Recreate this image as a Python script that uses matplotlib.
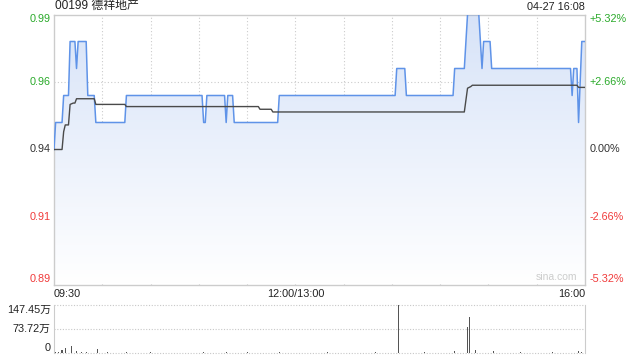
import numpy as np
import matplotlib
matplotlib.use('Agg')
import matplotlib.pyplot as plt
from matplotlib.colors import LinearSegmentedColormap
from matplotlib.transforms import blended_transform_factory

plt.rcParams['font.family'] = ['Liberation Sans', 'Noto Sans CJK SC', 'DejaVu Sans']

# Данные (минуты от 09:30, торговые минуты: 0..330)
title = '00199 德祥地产'
stamp = '04-27 16:08'
prev_close = 0.94

price_t = [0, 1, 5, 6, 9, 10, 13, 14, 15, 20, 21, 25, 26, 44, 45, 92, 93, 94, 95,
           106, 107, 108, 111, 112, 139, 140, 212, 213, 218, 219, 248, 249, 255, 257,
           264, 266, 267, 271, 272, 321, 322, 323, 325, 326, 328, 330]
price_v = [0.94, 0.95, 0.95, 0.96, 0.96, 0.98, 0.98, 0.97, 0.98, 0.98, 0.96, 0.96, 0.95, 0.95, 0.96, 0.96, 0.95, 0.95, 0.96,
           0.96, 0.95, 0.96, 0.96, 0.95, 0.95, 0.96, 0.96, 0.97, 0.97, 0.96, 0.96, 0.97, 0.97, 0.99,
           0.99, 0.97, 0.98, 0.98, 0.97, 0.97, 0.96, 0.97, 0.97, 0.95, 0.98, 0.98]

avg_t = [0, 5, 6, 7, 9, 10, 12, 13, 14, 25, 26, 44, 45, 127, 128, 135, 136, 255, 257, 259, 260, 325, 326, 330]
avg_v = [0.940, 0.940, 0.9466, 0.9491, 0.9491, 0.9567, 0.9572, 0.9572, 0.9588, 0.9588, 0.9567, 0.9567,
         0.9559, 0.9559, 0.9549, 0.9549, 0.9539, 0.9539, 0.9627, 0.9633, 0.9638, 0.9638, 0.9630, 0.9630]

# Объём,万
vol_t = [1, 3, 5, 7, 11, 14, 17, 20, 27, 33, 45, 60, 93, 107, 120, 140, 170, 200,
         214, 230, 249, 257, 258, 262, 273, 290, 310, 326, 328]
vol_v = [3, 2, 9, 14, 21, 5, 3, 3, 12, 2, 3, 2, 3, 3, 2, 4, 2, 2,
         147.45, 2, 6, 81, 111, 8, 6, 2, 2, 7, 3]

price_ticks = [0.99, 0.965, 0.94, 0.915, 0.89]
price_labels = ['0.99', '0.96', '0.94', '0.91', '0.89']
pct_labels = ['+5.32%', '+2.66%', '0.00%', '-2.66%', '-5.32%']
tick_colors = ['#2aaa2a', '#2aaa2a', '#333333', '#f03a3a', '#f03a3a']

x_ticks = [0, 150, 330]
x_labels = ['09:30', '12:00/13:00', '16:00']

vol_ticks = [147.45, 73.72, 0]
vol_labels = ['147.45万', '73.72万', '0']

fig = plt.figure(figsize=(6.4, 3.6), dpi=100)
ax = fig.add_axes([54 / 640, 1 - 284.5 / 360, 531 / 640, 270 / 360])
axv = fig.add_axes([54 / 640, 1 - 353 / 360, 531 / 640, 48 / 360])

# Основной график
ax.set_xlim(0, 330)
ax.set_ylim(0.89, 0.99)
for s in ax.spines.values():
    s.set_color('#cccccc')
    s.set_linewidth(1)
ax.set_xticks([])
ax.set_yticks([])

for m in range(30, 330, 30):
    ax.axvline(m, color='#cccccc', lw=0.8, ls=(0, (1, 2)), zorder=1)
for p in [0.965, 0.915]:
    ax.axhline(p, color='#cccccc', lw=0.8, ls=(0, (1, 2)), zorder=1)
ax.axhline(prev_close, color='#bbbbbb', lw=0.9, ls=(0, (3, 3)), zorder=1)

# Заливка градиентом под линией цены
cmap = LinearSegmentedColormap.from_list('g', ['#ffffff', '#d7e3f8'])
grad = np.linspace(0, 1, 256).reshape(-1, 1)
img = ax.imshow(grad, extent=[0, 330, 0.89, 0.99], origin='lower', aspect='auto',
                cmap=cmap, zorder=2)
poly = ax.fill_between(price_t, price_v, 0.89, color='none', lw=0)
img.set_clip_path(poly.get_paths()[0], transform=ax.transData)

ax.plot(price_t, price_v, color='#5f93e8', lw=1.1, zorder=4)
ax.plot(avg_t, avg_v, color='#4a4a4a', lw=1.0, zorder=5)

tr = blended_transform_factory(ax.transAxes, ax.transData)
for p, lab, pct, c in zip(price_ticks, price_labels, pct_labels, tick_colors):
    va = 'top' if p == price_ticks[0] else ('bottom' if p == price_ticks[-1] else 'center')
    ax.text(-0.006, p, lab, transform=tr, ha='right', va=va, color=c, fontsize=7.8)
    ax.text(1.009, p, pct, transform=tr, ha='left', va=va, color=c, fontsize=7.8)

has = ['left', 'center', 'right']
for m, lab, h in zip(x_ticks, x_labels, has):
    ax.annotate(lab, (m, 0), xycoords=('data', 'axes fraction'), xytext=(0, -3),
                textcoords='offset points', ha=h, va='top', fontsize=7.8, color='#222222')

ax.text(0.002, 1.01, title, transform=ax.transAxes, ha='left', va='bottom', fontsize=8.6, color='#222222')
ax.text(1.0, 1.01, stamp, transform=ax.transAxes, ha='right', va='bottom', fontsize=7.8, color='#222222')
ax.text(0.985, 0.01, 'sina.com', transform=ax.transAxes, ha='right', va='bottom', fontsize=7.5, color='#cccccc')

# Объём
axv.set_xlim(0, 330)
axv.set_ylim(0, 147.45)
axv.set_xticks([])
axv.set_yticks([])
for k in ['top', 'bottom']:
    axv.spines[k].set_visible(False)
for k in ['left', 'right']:
    axv.spines[k].set_color('#cccccc')
for v in vol_ticks:
    axv.axhline(v, color='#c8c8c8', lw=0.8, ls=(0, (1, 1.5)), zorder=1, clip_on=False)
axv.bar(vol_t, vol_v, width=0.7, color='#555555', zorder=3)

trv = blended_transform_factory(axv.transAxes, axv.transData)
for v, lab in zip(vol_ticks, vol_labels):
    va = 'top' if v == vol_ticks[0] else ('bottom' if v == 0 else 'center')
    axv.text(-0.006, v, lab, transform=trv, ha='right', va=va, fontsize=7.8, color='#222222')

fig.savefig('out.png', dpi=100)
